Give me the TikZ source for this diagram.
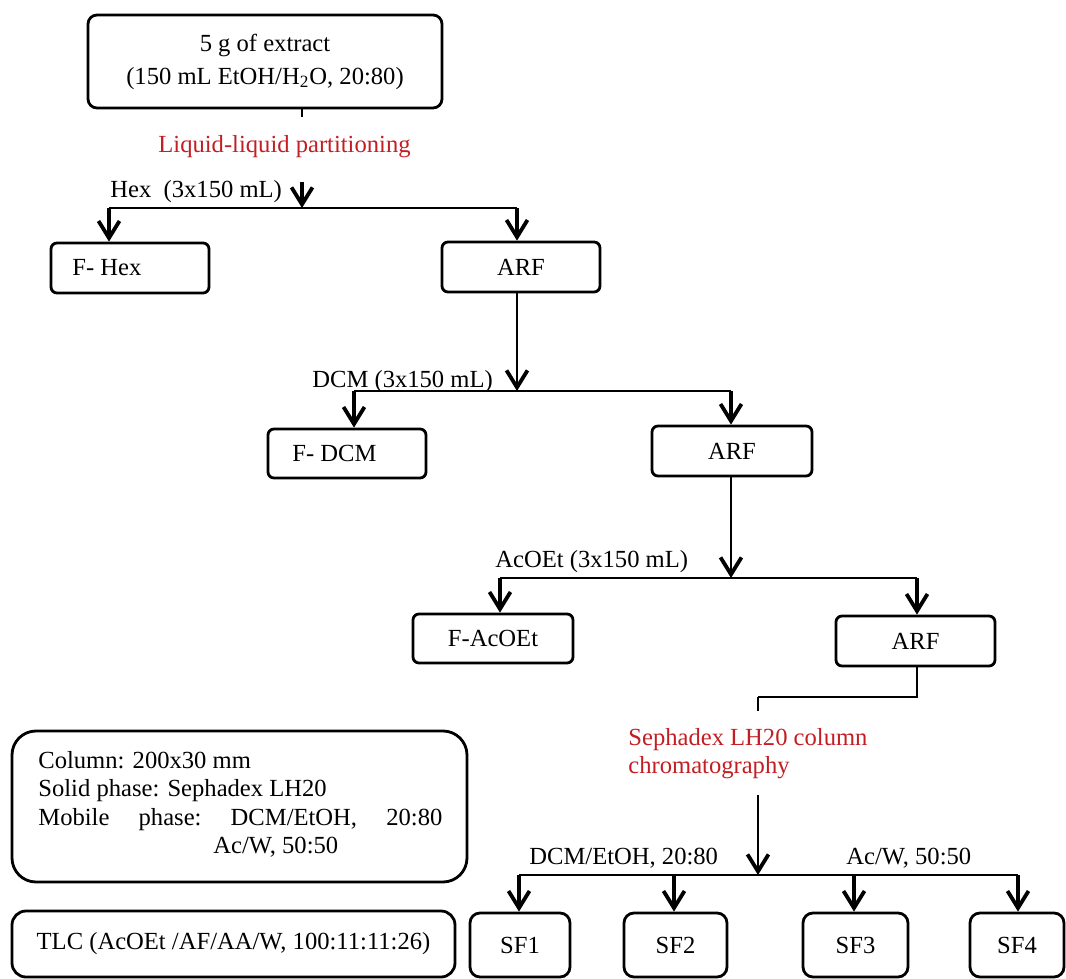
\documentclass[tikz,border=0pt]{standalone}
\usepackage{fontspec}
\setmainfont{Liberation Serif}
\usetikzlibrary{arrows.meta,calc}
\definecolor{redtxt}{RGB}{195,30,35}
\begin{document}
\begin{tikzpicture}[x=0.5pt,y=-0.5pt,
  every node/.style={font=\fontsize{12.3}{14.5}\selectfont, inner sep=0pt},
  box/.style={draw, line width=1.4pt, rounded corners=3pt},
  sz/.style 2 args={minimum width=#1*0.5pt, minimum height=#2*0.5pt},
  tip/.style={-{Straight Barb[length=8.5pt,width=10.5pt,line width=1.9pt]}},
  sarrow/.style={tip, line width=1.7pt},
  larrow/.style={tip, line width=1.1pt},
  hline/.style={line width=0.7pt},
  lbl/.style={anchor=west},
  redlbl/.style={text=redtxt}]
\useasboundingbox (0,0) rectangle (1066,979);

% top box
\node[box, rounded corners=4.5pt, sz={354}{93}, align=center,
      font=\fontsize{12.3}{16.5}\selectfont] (top) at (265,61.5)
      {5 g of extract\\(150 mL EtOH/H\textsubscript{2}O, 20:80)};
\coordinate (s1) at (302,117);
\draw[line width=1.4pt] (top.south -| s1) -- (s1);
\node[redlbl] (llp) at (284.5,147) {Liquid-liquid partitioning};

% first split
\coordinate (a1s) at (302,182);
\coordinate (j1) at (302,208);
\draw[sarrow] (a1s) -- (j1);
\coordinate (j1l) at (109,208);
\coordinate (j1r) at (517,208);
\draw[hline] (j1l) -- (j1r);
\node[lbl] (hexl) at (110,192) {Hex\ \ (3x150 mL)};
\node[box, sz={158}{50}] (fhex) at (130,268) {};
\node[anchor=west] (fhext) at (72,268) {F- Hex};
\node[box, sz={158}{50}] (arf1) at (521,267) {ARF};
\draw[sarrow] (j1l) -- (fhex.north -| j1l);
\draw[sarrow] (j1r) -- (arf1.north -| j1r);

% second split
\coordinate (j2) at (517,391);
\draw[larrow] (arf1.south -| j2) -- (j2);
\coordinate (j2l) at (354,391);
\coordinate (j2r) at (731,391);
\draw[hline] (j2l) -- (j2r);
\node[lbl] (dcml) at (312,382) {DCM (3x150 mL)};
\node[box, sz={158}{49}] (fdcm) at (347,453.5) {};
\node[anchor=west] (fdcmt) at (292,453.5) {F- DCM};
\node[box, sz={160}{50}] (arf2) at (732,451) {ARF};
\draw[sarrow] (j2l) -- (fdcm.north -| j2l);
\draw[sarrow] (j2r) -- (arf2.north -| j2r);

% third split
\coordinate (j3) at (731,578);
\draw[larrow] (arf2.south -| j3) -- (j3);
\coordinate (j3l) at (500,578);
\coordinate (j3r) at (917,578);
\draw[hline] (j3l) -- (j3r);
\node[lbl] (acl) at (495,562) {AcOEt (3x150 mL)};
\node[box, sz={160}{49}] (facoet) at (493,638.5) {F-AcOEt};
\node[box, sz={159}{50}] (arf3) at (915.5,641) {ARF};
\draw[sarrow] (j3l) -- (facoet.north -| j3l);
\draw[sarrow] (j3r) -- (arf3.north -| j3r);

% to Sephadex
\coordinate (k1) at (917,697);
\coordinate (k2) at (758,697);
\coordinate (k3) at (758,711);
\draw[hline] (arf3.south -| k1) -- (k1) -- (k2);
\draw[line width=1.2pt] (k2) -- (k3);
\node[redlbl, anchor=west, align=left, font=\fontsize{12.3}{14}\selectfont] (seph) at (628,754)
      {Sephadex LH20 column\\chromatography};

% fourth split
\coordinate (m1) at (758,795);
\coordinate (j4) at (758,875);
\draw[larrow] (m1) -- (j4);
\coordinate (j4a) at (519,875);
\coordinate (j4b) at (674,875);
\coordinate (j4c) at (854,875);
\coordinate (j4d) at (1018,875);
\draw[hline] (j4a) -- (j4d);
\node[lbl] (dcmetl) at (529,858) {DCM/EtOH, 20:80};
\node[lbl] (acwl) at (846,858) {Ac/W, 50:50};
\node[box, rounded corners=5pt, sz={100}{64}] (sf1) at (520,945) {SF1};
\node[box, rounded corners=5pt, sz={103}{64}] (sf2) at (675.5,945) {SF2};
\node[box, rounded corners=5pt, sz={105}{64}] (sf3) at (855.5,945) {SF3};
\node[box, rounded corners=5pt, sz={94}{64}] (sf4) at (1017,945) {SF4};
\draw[sarrow] (j4a) -- (sf1.north -| j4a);
\draw[sarrow] (j4b) -- (sf2.north -| j4b);
\draw[sarrow] (j4c) -- (sf3.north -| j4c);
\draw[sarrow] (j4d) -- (sf4.north -| j4d);

% info boxes
\node[box, rounded corners=12pt, sz={455}{151}] (colbox) at (239.5,806.5) {};
\node[anchor=north west, align=left, font=\fontsize{12.3}{14.25}\selectfont] (coltxt) at (38,751)
  {Column: 200x30 mm\\
   Solid phase: Sephadex LH20\\
   \hbox to 202pt{Mobile\hfill phase:\hfill DCM/EtOH,\hfill 20:80}\\
   \hspace*{87.5pt}Ac/W, 50:50};
\node[box, rounded corners=7pt, sz={443}{66}] (tlc) at (233.5,944)
  {TLC (AcOEt /AF/AA/W, 100:11:11:26)};
\end{tikzpicture}
\end{document}
